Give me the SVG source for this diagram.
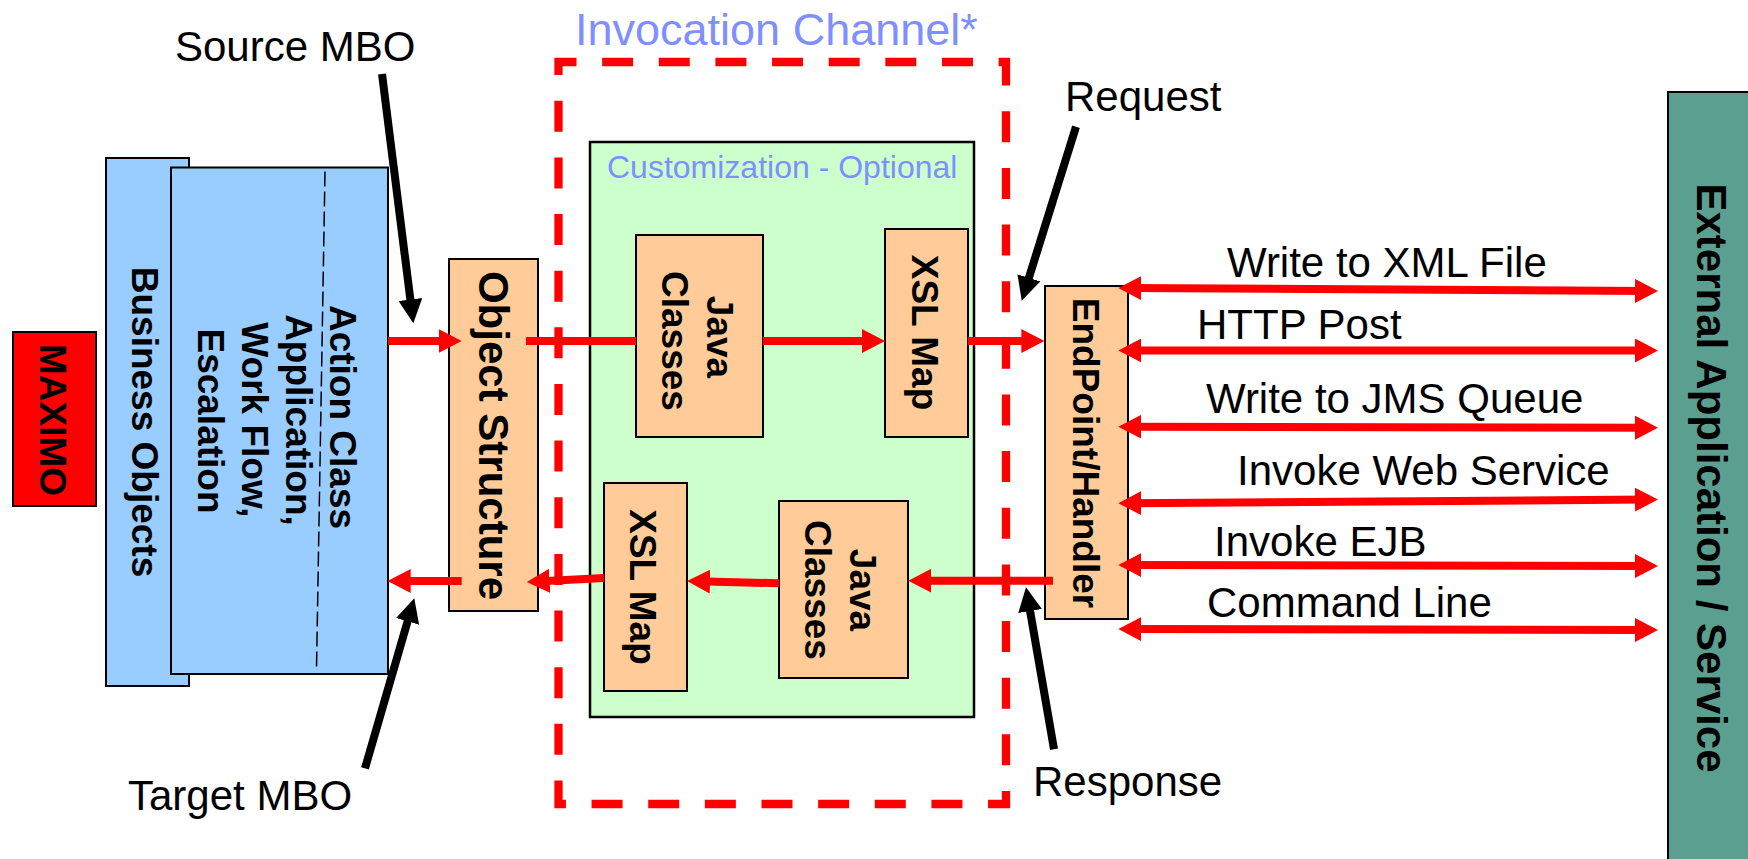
<svg xmlns="http://www.w3.org/2000/svg" width="1748" height="859" viewBox="0 0 1748 859">
<defs>
<style>
text { font-family: "Liberation Sans", Arial, sans-serif; fill:#000; }
.box { stroke:#000; stroke-width:2; }
.blue { fill:#99ccff; }
.peach { fill:#ffcc99; }
.rv { font-size:37px; font-weight:bold; text-anchor:middle; }
.lbl { font-size:42px; }
.hint { fill:#7f8fff; }
.red { stroke:#ff0000; stroke-width:8; fill:none; }
.blk { stroke:#000; stroke-width:8; fill:none; }
</style>
<marker id="ra" viewBox="0 0 23 24" refX="13" refY="12" markerWidth="23" markerHeight="24" markerUnits="userSpaceOnUse" orient="auto-start-reverse"><path d="M0,0 L23,12 L0,24 Z" fill="#ff0000"/></marker>
<marker id="ba" viewBox="0 0 24 24" refX="14" refY="12" markerWidth="24" markerHeight="24" markerUnits="userSpaceOnUse" orient="auto"><path d="M0,0 L24,12 L0,24 Z" fill="#000"/></marker>
</defs>
<rect width="1748" height="859" fill="#ffffff"/>

<g id="maximo">
<rect class="box" x="13" y="332" width="83" height="174" fill="#ff0000"/>
<text class="rv" x="40" y="420" transform="rotate(90 40 420)">MAXIMO</text>
</g>

<g id="business-objects">
<rect class="box blue" x="106" y="158" width="83" height="528"/>
<text class="rv" x="132" y="422" transform="rotate(90 132 422)">Business Objects</text>
</g>

<g id="action-class">
<rect class="box blue" x="171" y="167.5" width="217" height="506.5"/>
<line x1="325" y1="171.5" x2="316.5" y2="669" stroke="#000" stroke-width="1.5" stroke-dasharray="15 5"/>
<text class="rv" x="330" y="417" transform="rotate(90 330 417)">Action Class</text>
<text class="rv" x="286" y="420" transform="rotate(90 286 420)">Application,</text>
<text class="rv" x="242" y="420" transform="rotate(90 242 420)">Work Flow,</text>
<text class="rv" x="198" y="421" transform="rotate(90 198 421)">Escalation</text>
</g>

<g id="object-structure">
<rect class="box peach" x="449" y="259" width="89" height="352"/>
<text class="rv" style="font-size:42px" x="478.5" y="435.5" transform="rotate(90 478.5 435.5)">Object Structure</text>
</g>

<g id="invocation-channel">
<path d="M558.5,62 H1006 V804 H558.5 Z" fill="none" stroke="#ff0000" stroke-width="8.3" stroke-dasharray="31 25.64" stroke-dashoffset="13"/>
<text class="hint" x="575" y="45" font-size="45">Invocation Channel*</text>
</g>

<g id="customization">
<rect x="590" y="142" width="384" height="575" fill="#ccffcc" stroke="#000" stroke-width="2.5"/>
<text class="hint" x="607" y="178" font-size="32">Customization - Optional</text>
</g>

<g id="java-classes-out">
<rect class="box peach" x="636" y="235" width="127" height="202"/>
<text class="rv" x="707" y="337" transform="rotate(90 707 337)">Java</text>
<text class="rv" x="662" y="341" transform="rotate(90 662 341)">Classes</text>
</g>

<g id="xsl-map-out">
<rect class="box peach" x="885" y="229" width="83" height="208"/>
<text class="rv" x="912" y="332.5" transform="rotate(90 912 332.5)">XSL Map</text>
</g>

<g id="xsl-map-in">
<rect class="box peach" x="604" y="483" width="83" height="208"/>
<text class="rv" x="629.5" y="587" transform="rotate(90 629.5 587)">XSL Map</text>
</g>

<g id="java-classes-in">
<rect class="box peach" x="779" y="501" width="129" height="177"/>
<text class="rv" x="850" y="590" transform="rotate(90 850 590)">Java</text>
<text class="rv" x="805" y="590" transform="rotate(90 805 590)">Classes</text>
</g>

<g id="endpoint-handler">
<rect class="box peach" x="1045" y="286" width="83" height="333"/>
<text class="rv" x="1072.5" y="453" transform="rotate(90 1072.5 453)">EndPoint/Handler</text>
</g>

<g id="external-application">
<rect x="1668" y="92" width="90" height="800" fill="#5b9f90" stroke="#000" stroke-width="2"/>
<text class="rv" style="font-size:42px" x="1697" y="478" transform="rotate(90 1697 478)">External Application / Service</text>
</g>

<g id="labels">
<text class="lbl" x="175" y="61">Source MBO</text>
<text class="lbl" x="128" y="810">Target MBO</text>
<text class="lbl" x="1065" y="111">Request</text>
<text class="lbl" x="1033" y="796">Response</text>
<text class="lbl" x="1227" y="277">Write to XML File</text>
<text class="lbl" x="1197" y="339">HTTP Post</text>
<text class="lbl" x="1206" y="413">Write to JMS Queue</text>
<text class="lbl" x="1237" y="485">Invoke Web Service</text>
<text class="lbl" x="1214" y="556">Invoke EJB</text>
<text class="lbl" x="1207" y="617">Command Line</text>
</g>

<g id="connectors">
<line class="red" x1="388" y1="341" x2="451.7" y2="341" marker-end="url(#ra)"/>
<line class="red" x1="526" y1="341" x2="636" y2="341"/>
<line class="red" x1="763" y1="341" x2="875" y2="341" marker-end="url(#ra)"/>
<line class="red" x1="968" y1="341" x2="1034.3" y2="341" marker-end="url(#ra)"/>
<line class="red" x1="1053" y1="580.7" x2="918.3" y2="580.7" marker-end="url(#ra)"/>
<line class="red" x1="779.3" y1="583.3" x2="697" y2="581.2" marker-end="url(#ra)"/>
<line class="red" x1="604" y1="578" x2="536.7" y2="581.5" marker-end="url(#ra)"/>
<line class="red" x1="461.7" y1="581" x2="397.7" y2="581" marker-end="url(#ra)"/>
<line class="red" x1="1128.3" y1="288" x2="1648" y2="291" marker-start="url(#ra)" marker-end="url(#ra)"/>
<line class="red" x1="1128.3" y1="350.5" x2="1648" y2="350.5" marker-start="url(#ra)" marker-end="url(#ra)"/>
<line class="red" x1="1128.3" y1="426.7" x2="1648" y2="427.7" marker-start="url(#ra)" marker-end="url(#ra)"/>
<line class="red" x1="1128.3" y1="503.3" x2="1648" y2="499.5" marker-start="url(#ra)" marker-end="url(#ra)"/>
<line class="red" x1="1128.3" y1="565" x2="1648" y2="566" marker-start="url(#ra)" marker-end="url(#ra)"/>
<line class="red" x1="1128.3" y1="629" x2="1648" y2="630" marker-start="url(#ra)" marker-end="url(#ra)"/>
<line class="blk" x1="382" y1="74" x2="412.1" y2="313.4" marker-end="url(#ba)"/>
<line class="blk" x1="365" y1="768.3" x2="411.5" y2="607.9" marker-end="url(#ba)"/>
<line class="blk" x1="1076" y1="126.7" x2="1024.7" y2="291.2" marker-end="url(#ba)"/>
<line class="blk" x1="1054" y1="749.3" x2="1027.7" y2="597.2" marker-end="url(#ba)"/>
</g>
</svg>
